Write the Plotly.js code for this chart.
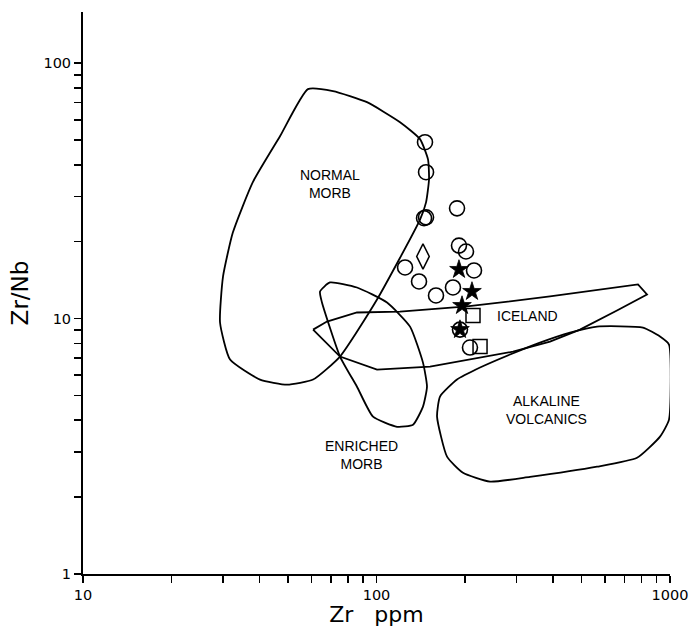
<!DOCTYPE html>
<html>
<head>
<meta charset="utf-8">
<script src="https://cdn.plot.ly/plotly-3.0.1.min.js"></script>
<style>html,body{margin:0;padding:0;background:#fff;}#chart{width:689px;height:627px;}</style>
</head>
<body>
<div id="chart"></div>
<script>
// Field outlines (Zr ppm, Zr/Nb)
var normalMorbX = [58.4, 71.1, 92.8, 120.3, 140.7, 149.8, 151.0, 147.5, 140.7, 100.4, 75.1, 60.8, 49.6, 40.1, 31.7, 29.3, 30.0, 32.4, 37.9, 46.9, 58.4];
var normalMorbY = [79.1, 77.7, 70.3, 58.7, 50.4, 42.0, 35.1, 28.5, 24.4, 11.87, 7.10, 5.77, 5.51, 5.77, 6.91, 9.65, 14.61, 21.7, 34.2, 51.7, 79.1];

var enrichedMorbX = [69.4, 85.8, 108.6, 130.1, 144.0, 148.6, 144.0, 133.2, 117.5, 97.3, 85.8, 75.1, 65.2, 64.2, 69.4];
var enrichedMorbY = [13.84, 13.23, 11.55, 9.30, 6.72, 5.41, 4.52, 3.84, 3.77, 4.13, 5.41, 7.10, 11.55, 12.76, 13.84];

var icelandX = [60.8, 67.8, 85.8, 120.3, 203.4, 390.0, 778.0, 834.9, 659.7, 493.5, 390.0, 291.9, 152.2, 100.4, 75.1, 60.8];
var icelandY = [9.05, 9.73, 10.56, 10.65, 11.15, 12.20, 13.60, 12.42, 10.75, 9.05, 8.12, 7.42, 6.48, 6.31, 7.10, 9.05];

var alkalineX = [564.1, 809.1, 924.7, 992.2, 992.2, 924.7, 772.0, 564.1, 333.4, 243.6, 197.1, 173.9, 160.8, 164.6, 188.1, 225.3, 285.1, 360.6, 456.3, 564.1];
var alkalineY = [9.30, 9.22, 8.50, 7.91, 4.02, 3.45, 2.85, 2.63, 2.40, 2.30, 2.49, 2.88, 4.13, 4.95, 5.77, 6.43, 7.23, 8.05, 8.81, 9.30];

// Samples
var circleX = [146.3, 147.5, 145.2, 147.5, 188.1, 191.0, 201.8, 125.1, 139.6, 159.5, 182.2, 214.9, 192.5, 208.2];
var circleY = [49.0, 37.4, 24.7, 24.9, 27.0, 19.3, 18.3, 15.85, 13.97, 12.31, 13.23, 15.43, 9.05, 7.70];
var starX = [191.0, 211.5, 195.6, 192.5];
var starY = [15.56, 12.76, 11.24, 9.05];
var squareX = [213.2, 225.3];
var squareY = [10.27, 7.77];
var diamondX = [144.0];
var diamondY = [17.5];

// Field labels
var labelText = ["NORMAL<br>MORB", "ICELAND", "ENRICHED<br>MORB", "ALKALINE<br>VOLCANICS"];
var labelX = [69.4, 328, 89.2, 380.9];
var labelY = [33.5, 10.2, 2.93, 4.40];

// Ticks
var xTickVals = [10, 20, 30, 40, 50, 60, 70, 80, 90, 100, 200, 300, 400, 500, 600, 700, 800, 900, 1000];
var xTickText = ["10", "", "", "", "", "", "", "", "", "100", "", "", "", "", "", "", "", "", "1000"];
var yTickVals = [1, 2, 3, 4, 5, 6, 7, 8, 9, 10, 20, 30, 40, 50, 60, 70, 80, 90, 100];
var yTickText = ["1", "", "", "", "", "", "", "", "", "10", "", "", "", "", "", "", "", "", "100"];

function outline(x, y) {
  return {x: x, y: y, type: 'scatter', mode: 'lines', line: {color: '#000', width: 1.8, shape: 'spline', smoothing: 0.5}, hoverinfo: 'skip', showlegend: false};
}
function pts(x, y, sym, size, lw) {
  return {x: x, y: y, type: 'scatter', mode: 'markers', showlegend: false,
    marker: {symbol: sym, size: size, color: '#000', line: {color: '#000', width: lw}}};
}

var data = [
  outline(normalMorbX, normalMorbY),
  outline(enrichedMorbX, enrichedMorbY),
  {x: icelandX, y: icelandY, type: 'scatter', mode: 'lines', line: {color: '#000', width: 1.8}, hoverinfo: 'skip', showlegend: false},
  outline(alkalineX, alkalineY),
  pts(circleX, circleY, 'circle-open', 15, 1.6),
  pts(diamondX, diamondY, 'diamond-tall-open', 18, 1.5),
  pts(squareX, squareY, 'square-open', 14, 1.5),
  pts(starX, starY, 'star', 14, 0.8)
];

var annotations = labelText.map(function (t, i) {
  return {x: Math.log10(labelX[i]), y: Math.log10(labelY[i]), xref: 'x', yref: 'y', text: t, showarrow: false,
    font: {family: 'Liberation Sans, Arial, sans-serif', size: 14, color: '#000'}, align: 'center'};
});

var tickFont = {family: 'DejaVu Sans, sans-serif', size: 14.5, color: '#000'};
var layout = {
  width: 689, height: 627,
  margin: {l: 83, r: 19, t: 12, b: 53},
  paper_bgcolor: '#fff', plot_bgcolor: '#fff',
  showlegend: false,
  xaxis: {type: 'log', range: [1, 3], tickmode: 'array', tickvals: xTickVals, ticktext: xTickText,
    ticks: 'outside', ticklen: 7, tickwidth: 1.5, tickcolor: '#000', showgrid: false, zeroline: false,
    showline: true, linecolor: '#000', linewidth: 2, tickfont: tickFont,
    title: {text: 'Zr\u00a0\u00a0\u00a0ppm', font: {family: 'DejaVu Sans, sans-serif', size: 22, color: '#000'}, standoff: 5}},
  yaxis: {type: 'log', range: [0, 2.2], tickmode: 'array', tickvals: yTickVals, ticktext: yTickText,
    ticks: 'outside', ticklen: 7, tickwidth: 1.5, tickcolor: '#000', showgrid: false, zeroline: false,
    showline: true, linecolor: '#000', linewidth: 2, tickfont: tickFont,
    title: {text: 'Zr/Nb', font: {family: 'DejaVu Sans, sans-serif', size: 23, color: '#000'}, standoff: 8}},
  annotations: annotations
};

Plotly.newPlot('chart', data, layout, {displayModeBar: false, staticPlot: true});
</script>
</body>
</html>
